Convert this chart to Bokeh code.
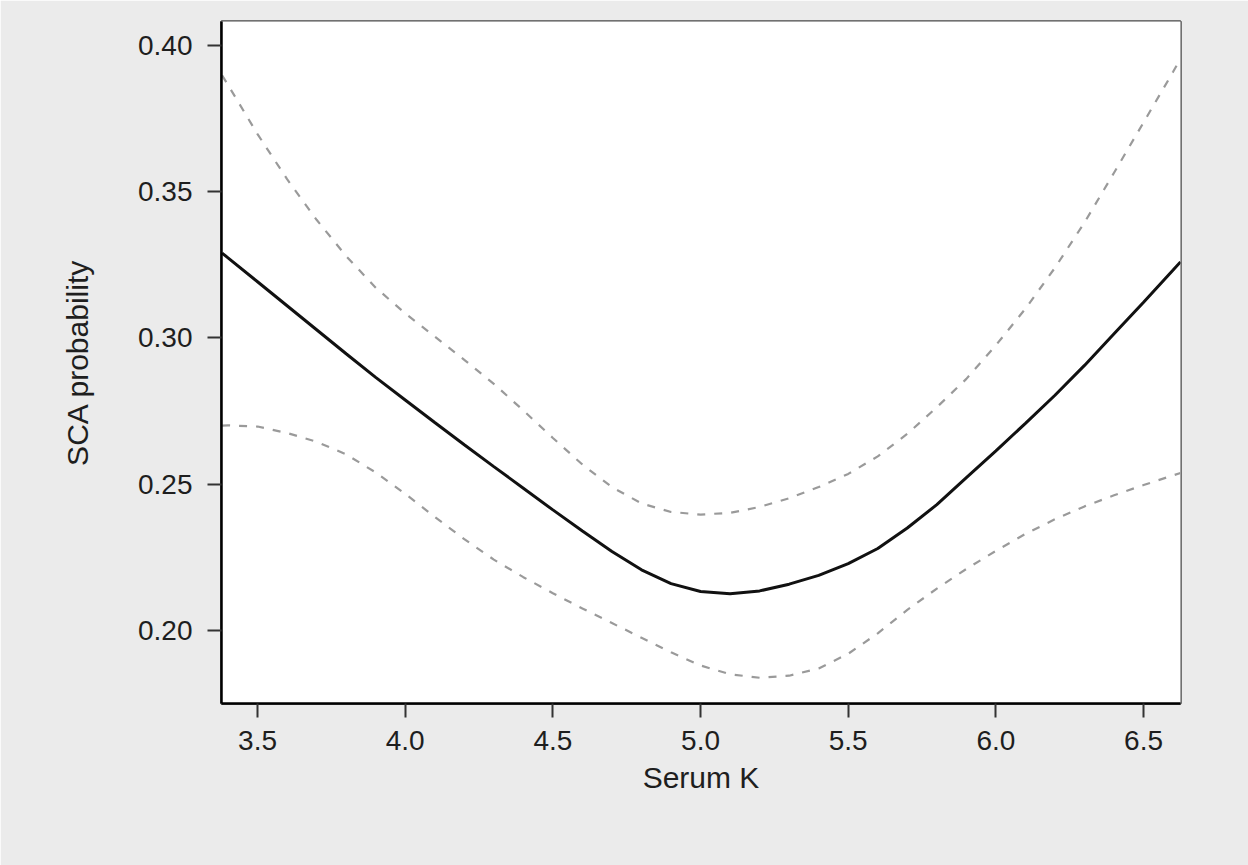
from bokeh.plotting import figure
from bokeh.models import Range1d, BoxAnnotation, FixedTicker, NumeralTickFormatter, ColumnDataSource
from bokeh.embed import file_html
from bokeh.resources import INLINE

# Serum K (x) and SCA probability estimate with lower/upper confidence bounds
serum_k = [3.38, 3.4, 3.5, 3.6, 3.7, 3.8, 3.9, 4.0, 4.1, 4.2, 4.3, 4.4, 4.5, 4.6, 4.7,
           4.8, 4.9, 5.0, 5.1, 5.2, 5.3, 5.4, 5.5, 5.6, 5.7, 5.8, 5.9, 6.0, 6.1, 6.2,
           6.3, 6.4, 6.5, 6.6, 6.625]
sca_prob = [0.3290, 0.3274, 0.3192, 0.3110, 0.3028, 0.2946, 0.2865, 0.2788, 0.2711, 0.2635,
            0.2560, 0.2486, 0.2412, 0.2340, 0.2270, 0.2207, 0.2160, 0.2133, 0.2125, 0.2135,
            0.2158, 0.2188, 0.2228, 0.2280, 0.2350, 0.2430, 0.2522, 0.2614, 0.2708, 0.2804,
            0.2906, 0.3014, 0.3122, 0.3232, 0.3260]
upper_ci = [0.3898, 0.3865, 0.3697, 0.3543, 0.3404, 0.3280, 0.3172, 0.3084, 0.3005, 0.2925,
            0.2843, 0.2752, 0.2658, 0.2567, 0.2490, 0.2434, 0.2405, 0.2396, 0.2402, 0.2422,
            0.2452, 0.2490, 0.2535, 0.2595, 0.2672, 0.2763, 0.2860, 0.2975, 0.3100, 0.3240,
            0.3395, 0.3565, 0.3737, 0.3910, 0.3955]
lower_ci = [0.2700, 0.2701, 0.2697, 0.2675, 0.2645, 0.2602, 0.2540, 0.2467, 0.2388, 0.2312,
            0.2242, 0.2182, 0.2127, 0.2075, 0.2025, 0.1975, 0.1925, 0.1880, 0.1850, 0.1838,
            0.1845, 0.1870, 0.1920, 0.1990, 0.2070, 0.2143, 0.2210, 0.2272, 0.2330, 0.2380,
            0.2424, 0.2462, 0.2497, 0.2530, 0.2538]

x_ticks = [3.5, 4.0, 4.5, 5.0, 5.5, 6.0, 6.5]
y_ticks = [0.20, 0.25, 0.30, 0.35, 0.40]

src = ColumnDataSource(dict(x=serum_k, mid=sca_prob, hi=upper_ci, lo=lower_ci))

FONT = "Liberation Sans"

p = figure(frame_width=959, frame_height=682,
           min_border_left=221, min_border_right=68, min_border_top=21, min_border_bottom=162,
           x_range=Range1d(3.378, 6.625), y_range=Range1d(0.175, 0.4082),
           output_backend="svg", toolbar_location=None,
           border_fill_color="#ebebeb", background_fill_color="white")

# white panel behind the plot and its axes, plus thin white strips at the outer edge
for l, r, t, b in [(57, 1181, 20, 798), (0, 11, 0, 865), (0, 1248, 0, 7)]:
    p.add_layout(BoxAnnotation(left=l, right=r, top=t, bottom=b,
                               left_units="canvas", right_units="canvas",
                               top_units="canvas", bottom_units="canvas",
                               fill_color="white", fill_alpha=1.0, line_alpha=0,
                               level="underlay"))

p.line("x", "hi", source=src, line_color="#9a9a9a", line_width=2.2, line_dash="8 9")
p.line("x", "lo", source=src, line_color="#9a9a9a", line_width=2.2, line_dash="8 9")
p.line("x", "mid", source=src, line_color="#111111", line_width=3)

p.grid.visible = False
p.outline_line_color = "#4a4a4a"
p.outline_line_width = 2.5

p.xaxis.ticker = FixedTicker(ticks=x_ticks)
p.yaxis.ticker = FixedTicker(ticks=y_ticks)
p.xaxis.formatter = NumeralTickFormatter(format="0.0")
p.yaxis.formatter = NumeralTickFormatter(format="0.00")
p.xaxis.axis_label = "Serum K"
p.yaxis.axis_label = "SCA probability"

for ax in (p.xaxis, p.yaxis):
    ax.axis_line_color = "black"
    ax.axis_line_width = 2.5
    ax.major_tick_line_color = "#333333"
    ax.major_tick_line_width = 2
    ax.major_tick_out = 14
    ax.major_tick_in = 0
    ax.minor_tick_line_color = None
    ax.major_label_text_font = FONT
    ax.major_label_text_font_size = "28px"
    ax.major_label_text_color = "#1e1e1e"
    ax.axis_label_text_font = FONT
    ax.axis_label_text_font_size = "30px"
    ax.axis_label_text_font_style = "normal"
    ax.axis_label_text_color = "#1e1e1e"

p.yaxis.major_label_standoff = 15
p.xaxis.major_label_standoff = 13
p.yaxis.axis_label_standoff = 41
p.xaxis.axis_label_standoff = 8

open("out.html", "w").write(file_html(p, INLINE))
